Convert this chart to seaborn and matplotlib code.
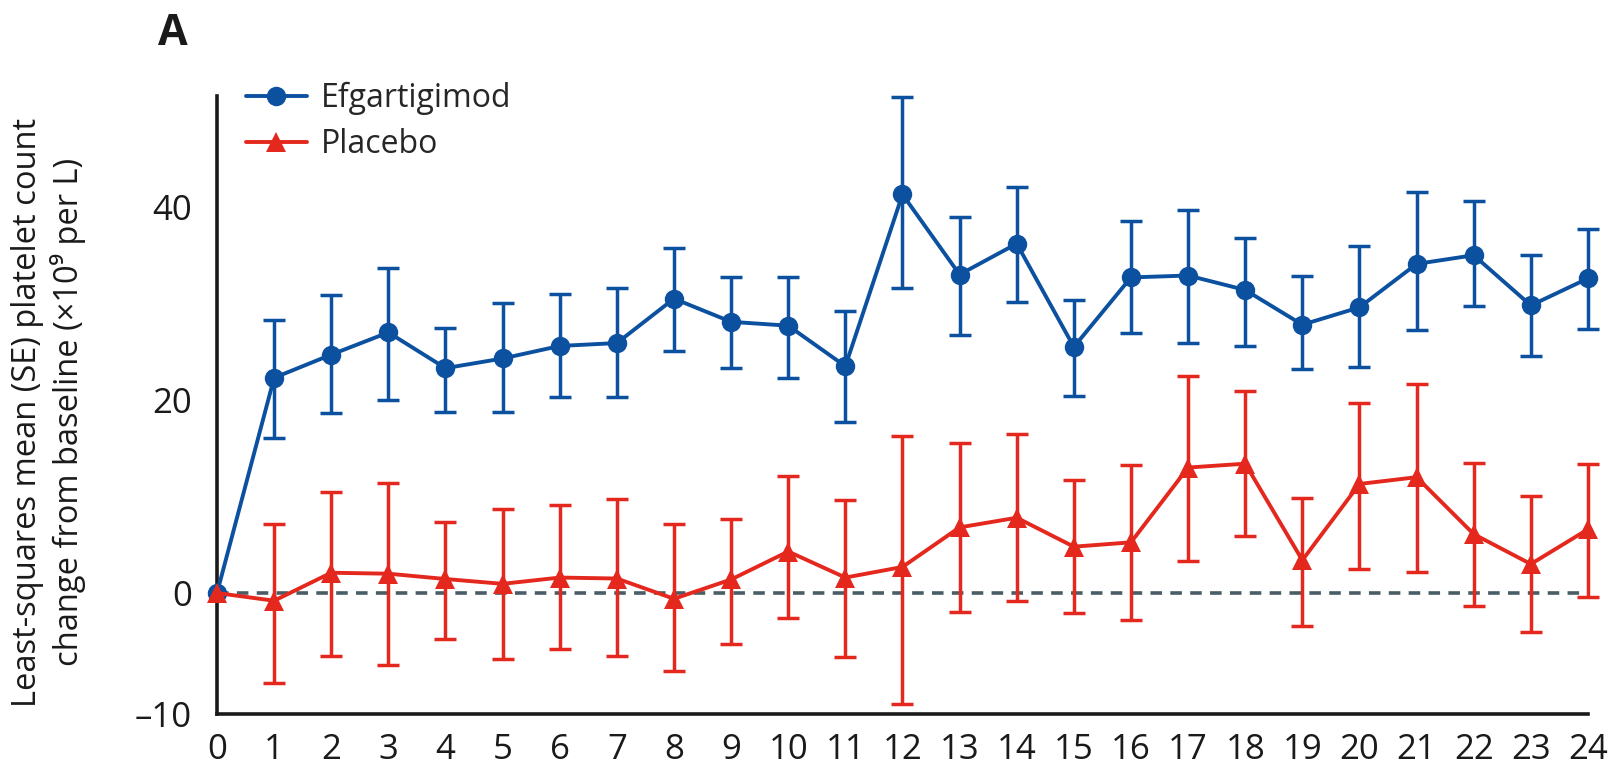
import matplotlib
matplotlib.use("Agg")
import matplotlib.pyplot as plt
import seaborn as sns
import pandas as pd
from matplotlib.lines import Line2D

# weeks since baseline
weeks = list(range(25))

# efgartigimod: LS mean and mean +/- SE
efg_mean = [0, 22.3, 24.7, 27.0, 23.3, 24.3, 25.6, 25.9, 30.5, 28.1, 27.7, 23.5, 41.3,
            33.0, 36.2, 25.5, 32.7, 32.9, 31.4, 27.8, 29.6, 34.1, 35.0, 29.8, 32.6]
efg_upper = [0, 28.3, 30.9, 33.7, 27.5, 30.0, 31.0, 31.6, 35.8, 32.7, 32.7, 29.2, 51.4,
             39.0, 42.1, 30.4, 38.5, 39.7, 36.8, 32.8, 36.0, 41.6, 40.6, 35.0, 37.7]
efg_lower = [0, 16.1, 18.7, 20.0, 18.8, 18.8, 20.3, 20.3, 25.1, 23.3, 22.3, 17.7, 31.6,
             26.7, 30.2, 20.4, 26.9, 25.9, 25.6, 23.2, 23.4, 27.3, 29.7, 24.6, 27.4]

# placebo
pbo_mean = [0, -0.8, 2.1, 2.0, 1.45, 0.95, 1.6, 1.5, -0.6, 1.4, 4.3, 1.6, 2.7,
            6.8, 7.8, 4.8, 5.25, 13.0, 13.4, 3.4, 11.3, 12.0, 6.1, 3.0, 6.6]
pbo_upper = [0, 7.2, 10.5, 11.4, 7.4, 8.7, 9.1, 9.7, 7.1, 7.7, 12.1, 9.6, 16.3,
             15.5, 16.5, 11.7, 13.3, 22.5, 20.9, 9.8, 19.7, 21.7, 13.5, 10.0, 13.4]
pbo_lower = [0, -9.3, -6.5, -7.5, -4.8, -6.8, -5.8, -6.5, -8.1, -5.3, -2.6, -6.6, -11.5,
             -2.0, -0.8, -2.1, -2.8, 3.35, 5.9, -3.4, 2.5, 2.2, -1.3, -4.0, -0.45]

groups = ["Efgartigimod", "Placebo"]
ytick_labels = ["\u201310", "0", "20", "40"]

BLUE = "#0c50a0"
RED = "#e5281e"

sns.set_style("white")
plt.rcParams['font.family'] = ['Open Sans', 'DejaVu Sans']

df = pd.DataFrame({
    "week": weeks * 2,
    "mean": efg_mean + pbo_mean,
    "upper": efg_upper + pbo_upper,
    "lower": efg_lower + pbo_lower,
    "group": [groups[0]] * 25 + [groups[1]] * 25,
})

fig = plt.figure(figsize=(16.11, 7.73), dpi=100)
ax = fig.add_axes([0.1347, 0.0763, 0.851, 0.7995])

# baseline reference
ax.axhline(0, color="#4a5d66", lw=2.6, dashes=(3.2, 2.3), zorder=1)

colors = {groups[0]: BLUE, groups[1]: RED}
markers = {groups[0]: "o", groups[1]: "^"}
msizes = {groups[0]: 14, groups[1]: 15}

for g in groups:
    d = df[df.group == g]
    e = d[d.upper != d.lower]
    ax.errorbar(e.week, e["mean"], yerr=[e["mean"] - e.lower, e.upper - e["mean"]],
                fmt="none", ecolor=colors[g], elinewidth=2.5, capsize=8, capthick=2.5,
                zorder=3, clip_on=False)
    sns.lineplot(data=d, x="week", y="mean", ax=ax, color=colors[g], lw=2.8,
                 marker=markers[g], markersize=msizes[g], markeredgewidth=0,
                 legend=False, zorder=4, clip_on=False)

ymin = -12.54
ax.set_xlim(0, 24)
ax.set_ylim(ymin, 51.5)
ax.set_xticks(weeks)
ax.set_yticks([ymin, 0, 20, 40])
ax.set_yticklabels(ytick_labels)
ax.set_xlabel("")
ax.set_ylabel("")

sns.despine(ax=ax)
for s in ["left", "bottom"]:
    ax.spines[s].set_linewidth(2.6)
    ax.spines[s].set_color("#1a1a1a")
ax.tick_params(axis="both", length=13, width=2.4, color="#1a1a1a",
               labelsize=25, labelcolor="#1a1a1a")
ax.tick_params(axis="y", pad=5)
ax.tick_params(axis="x", pad=0.5)

fig.text(0.030, 0.467,
         "Least-squares mean (SE) platelet count\nchange from baseline (\u00d710\u2079 per L)",
         rotation=90, ha="center", va="center", multialignment="center",
         fontsize=23.5, linespacing=1.2, color="#1a1a1a")

fig.text(0.098, 0.985, "A", fontsize=31, fontweight="bold", va="top", ha="left",
         color="#1a1a1a")

handles = [Line2D([], [], color=colors[g], lw=2.8, marker=markers[g],
                  markersize=msizes[g], markeredgewidth=0) for g in groups]
fig.legend(handles, groups, loc="upper left", bbox_to_anchor=(246 / 1611, 1 - 82 / 773),
           frameon=False, fontsize=23, handlelength=1.9, handletextpad=0.45,
           labelspacing=0.4, borderpad=0, borderaxespad=0)

fig.savefig("out.png", dpi=100)
